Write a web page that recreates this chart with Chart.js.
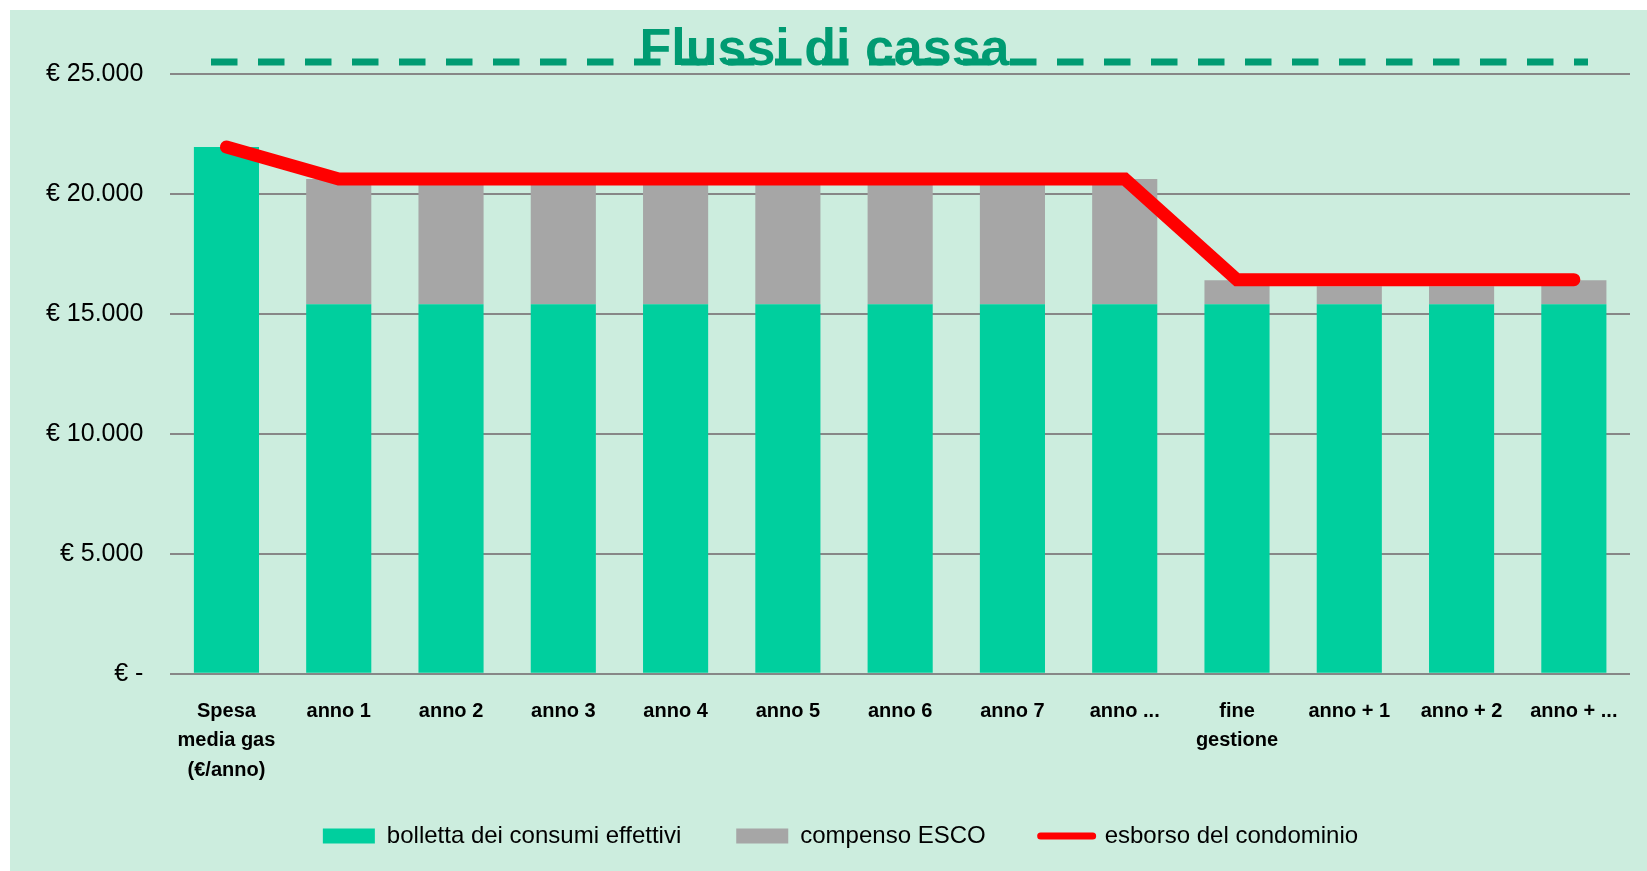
<!DOCTYPE html>
<html>
<head>
<meta charset="utf-8">
<script src="https://cdn.jsdelivr.net/npm/chart.js@4.4.1/dist/chart.umd.min.js"></script>
<style>
  html, body { margin: 0; padding: 0; background: #ffffff; }
  #frame {
    position: absolute; left: 10px; top: 10px;
    width: 1637px; height: 861px;
    background: #ccedde; overflow: hidden;
  }
  canvas { display: block; }
</style>
</head>
<body>
<div id="frame"><canvas id="cashflow" width="1637" height="861"></canvas></div>
<script>
// Flussi di cassa: spesa gas prima / durante / dopo la gestione ESCO
const categories = [
    ['Spesa', 'media gas', '(€/anno)'],
    'anno 1', 'anno 2', 'anno 3', 'anno 4', 'anno 5', 'anno 6', 'anno 7', 'anno ...',
    ['fine', 'gestione'],
    'anno + 1', 'anno + 2', 'anno + ...'
];
const bolletta = [21950, 15400, 15400, 15400, 15400, 15400, 15400, 15400, 15400, 15400, 15400, 15400, 15400];
const compenso = [0, 5220, 5220, 5220, 5220, 5220, 5220, 5220, 5220, 1000, 750, 750, 1000];
const esborso = [21950, 20620, 20620, 20620, 20620, 20620, 20620, 20620, 20620, 16420, 16420, 16420, 16420];
const yTicks = [0, 5000, 10000, 15000, 20000, 25000];

const GREEN = '#00cf9e';
const GREY = '#a6a6a6';
const RED = '#ff0000';
const TITLE_GREEN = '#009b72';
const GRID = '#878787';
const FONT = "'Liberation Sans', Arial, sans-serif";

function formatEuro(value) {
    if (value === 0) return '€ -';
    return '€ ' + String(value).replace(/\B(?=(\d{3})+(?!\d))/g, '.');
}

// dashed rule running behind the title
const titleRule = {
    id: 'titleRule',
    beforeDraw(chart, args, opts) {
        const ctx = chart.ctx;
        ctx.save();
        ctx.strokeStyle = opts.color;
        ctx.lineWidth = opts.width;
        ctx.setLineDash(opts.dash);
        ctx.beginPath();
        ctx.moveTo(opts.x0, opts.y);
        ctx.lineTo(opts.x1, opts.y);
        ctx.stroke();
        ctx.restore();
    }
};

// legend padding is used both horizontally and vertically; keep the wide
// horizontal gaps but fix the box height and pull its top edge up
const legendSpacing = {
    id: 'legendSpacing',
    afterInit(chart, args, opts) {
        const legend = chart.legend;
        const fit = legend.fit;
        legend.fit = function () {
            fit.call(this);
            this.height = opts.height;
        };
    },
    afterLayout(chart, args, opts) {
        chart.legend.top -= opts.lift;
        chart.legend.left += opts.shift;
    }
};

const canvas = document.getElementById('cashflow');

new Chart(canvas, {
    data: {
        labels: categories,
        datasets: [
            {
                type: 'bar',
                label: 'bolletta dei consumi effettivi',
                data: bolletta,
                backgroundColor: GREEN,
                stack: 'costi',
                order: 1
            },
            {
                type: 'bar',
                label: 'compenso ESCO',
                data: compenso,
                backgroundColor: GREY,
                stack: 'costi',
                order: 1
            },
            {
                type: 'line',
                label: 'esborso del condominio',
                data: esborso,
                borderColor: RED,
                backgroundColor: RED,
                borderWidth: 13,
                borderCapStyle: 'round',
                pointRadius: 0,
                tension: 0,
                fill: false,
                stack: 'esborso',
                order: 0
            }
        ]
    },
    options: {
        responsive: false,
        animation: false,
        layout: { padding: { left: 9, right: 17, top: 0, bottom: 0 } },
        datasets: {
            bar: { categoryPercentage: 1, barPercentage: 0.58, borderWidth: 0 }
        },
        plugins: {
            title: {
                display: true,
                text: 'Flussi di cassa',
                color: TITLE_GREEN,
                font: { family: FONT, size: 52, weight: 'bold', lineHeight: 0.9 },
                padding: { top: 17, bottom: 0 }
            },
            legend: {
                position: 'bottom',
                labels: {
                    color: '#000000',
                    font: { family: FONT, size: 24 },
                    usePointStyle: true,
                    pointStyleWidth: 52,
                    boxHeight: 15,
                    padding: 55,
                    sort: (a, b) => a.datasetIndex - b.datasetIndex,
                    generateLabels(chart) {
                        const items = Chart.defaults.plugins.legend.labels.generateLabels(chart);
                        items.forEach(item => {
                            const ds = chart.data.datasets[item.datasetIndex];
                            if (ds.type === 'line') {
                                item.pointStyle = 'line';
                                item.lineWidth = 7;
                                item.lineCap = 'round';
                            } else {
                                item.pointStyle = 'rect';
                                item.lineWidth = 0;
                            }
                        });
                        return items;
                    }
                }
            },
            tooltip: { enabled: false },
            titleRule: { color: TITLE_GREEN, width: 7, dash: [26.5, 20.5], x0: 201, x1: 1578, y: 52 },
            legendSpacing: { height: 63, lift: 39, shift: 32 }
        },
        scales: {
            x: {
                stacked: true,
                grid: { display: false, drawTicks: false },
                border: { display: false },
                ticks: {
                    color: '#000000',
                    font: { family: FONT, size: 20, weight: 'bold', lineHeight: 1.47 },
                    padding: 23,
                    autoSkip: false,
                    maxRotation: 0
                }
            },
            y: {
                stacked: true,
                min: 0,
                max: 25000,
                grid: { color: GRID, lineWidth: 2, drawTicks: false },
                border: { display: false },
                afterBuildTicks: axis => {
                    axis.ticks = yTicks.map(value => ({ value }));
                },
                ticks: {
                    color: '#000000',
                    font: { family: FONT, size: 25 },
                    padding: 27,
                    callback: value => formatEuro(value)
                }
            }
        }
    },
    plugins: [titleRule, legendSpacing]
});
</script>
</body>
</html>
